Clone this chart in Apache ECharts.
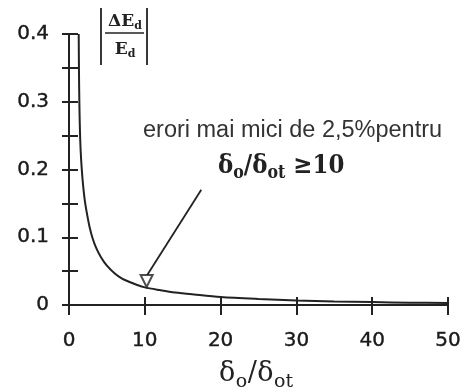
<!DOCTYPE html>
<html><head><meta charset="utf-8">
<script src="https://cdn.jsdelivr.net/npm/echarts@6/dist/echarts.min.js"></script>
<style>html,body{margin:0;padding:0;background:#fff}#c{width:466px;height:391px}</style>
</head><body><div id="c"></div>
<script>
// ---- data ----
const curveX = [1.28, 1.32, 1.38, 1.45, 1.55, 1.7, 1.9, 2.1, 2.4, 2.7, 3.1, 3.6, 4.2, 5.0, 6.0, 7.0, 8.0, 9.0, 10, 12, 14, 16.5, 20, 25, 30, 35, 40, 45, 50];
const curveY = [0.4, 0.34, 0.29, 0.255, 0.225, 0.198, 0.172, 0.153, 0.133, 0.116, 0.099, 0.084, 0.071, 0.058, 0.047, 0.039, 0.034, 0.0295, 0.026, 0.022, 0.0185, 0.0155, 0.0118, 0.0089, 0.0067, 0.0053, 0.0043, 0.0035, 0.003];
const xTickLabels = ['0', '10', '20', '30', '40', '50'];
const yTickLabels = ['0', '0.1', '0.2', '0.3', '0.4'];
const arrowX = [17.45, 10.3];
const arrowY = [0.17, 0.044];
const markerX = [10.24];
const markerY = [0.0354];
const noteLine1 = 'erori mai mici de 2,5%pentru';

const INK = '#222';
const cv = document.createElement('canvas').getContext('2d');
function run(x0, cy, parts, family, weight, opts) {
  opts = opts || {};
  const gap = opts.gap || 0, sx = opts.sx || 1;
  const widths = parts.map(p => { cv.font = `${weight} ${p[1]}px "${family}"`; return cv.measureText(p[0]).width; });
  const w = widths.reduce((a, b) => a + b, 0) + gap * (parts.length - 1);
  const children = [];
  let x = 0;
  parts.forEach((p, i) => {
    children.push({type: 'text', x: x, y: p[2],
      style: {text: p[0], fontSize: p[1], fontFamily: family, fontWeight: weight, fill: INK, align: 'left', verticalAlign: 'middle'}});
    x += widths[i] + gap;
  });
  return [{type: 'group', x: opts.center ? x0 - w * sx / 2 : x0, y: cy, scaleX: sx, z: 10, children: children}];
}

const chart = echarts.init(document.getElementById('c'), null, {renderer: 'canvas'});
const graphics = [].concat(
  run(125, 22, [['ΔE', 17, 0], ['d', 11, 4]], 'DejaVu Serif', 'bold', {center: true}),
  run(125, 50, [['E', 17, 0], ['d', 11, 4]], 'DejaVu Serif', 'bold', {center: true}),
  [{type: 'line', shape: {x1: 101, y1: 8, x2: 101, y2: 65}, style: {stroke: INK, lineWidth: 1.8}},
   {type: 'line', shape: {x1: 147, y1: 8, x2: 147, y2: 65}, style: {stroke: INK, lineWidth: 1.8}},
   {type: 'line', shape: {x1: 105, y1: 33, x2: 144, y2: 33}, style: {stroke: INK, lineWidth: 1.4}}],
  [{type: 'text', x: 143, y: 131, style: {text: noteLine1, fontSize: 23.5, fontFamily: 'Liberation Sans', fill: '#333', align: 'left', verticalAlign: 'middle'}}],
  run(218, 166, [['δ', 26, 0], ['o', 18, 7], ['/', 26, 0], ['δ', 26, 0], ['ot', 18, 7], [' ≥10', 26, 0]], 'DejaVu Serif', 'bold', {sx: 0.88}),
  run(256, 374, [['δ', 27, 0], ['o', 19, 8], ['/', 27, 0], ['δ', 27, 0], ['ot', 19, 8]], 'DejaVu Serif', 'normal', {center: true, gap: 0.5})
);

const axisFont = {fontSize: 20, fontFamily: 'DejaVu Sans', color: '#1a1a1a', textBorderColor: '#1a1a1a', textBorderWidth: 0.4};
chart.setOption({
  backgroundColor: '#fff',
  animation: false,
  grid: {left: 69, right: 18, top: 34, bottom: 86},
  xAxis: [
    {type: 'value', min: 0, max: 50, interval: 10,
     axisLine: {show: true, lineStyle: {color: INK, width: 2}},
     axisTick: {show: true, length: 10, lineStyle: {color: INK, width: 2}},
     axisLabel: Object.assign({margin: 26, formatter: v => xTickLabels[Math.round(v / 10)]}, axisFont),
     splitLine: {show: false}},
    {type: 'value', min: 0, max: 50, interval: 10, position: 'bottom',
     axisLine: {show: false}, axisTick: {show: true, inside: true, length: 8, lineStyle: {color: INK, width: 2}},
     axisLabel: {show: false}, splitLine: {show: false}}
  ],
  yAxis: [
    {type: 'value', min: 0, max: 0.4, interval: 0.05,
     axisLine: {show: true, lineStyle: {color: INK, width: 2}},
     axisTick: {show: true, length: 7, lineStyle: {color: INK, width: 2}},
     axisLabel: Object.assign({margin: 20, formatter: v => { const i = Math.round(v / 0.05); return i % 2 === 0 ? yTickLabels[i / 2] : ''; }}, axisFont),
     splitLine: {show: false}},
    {type: 'value', min: 0, max: 0.4, interval: 0.05, position: 'left',
     axisLine: {show: false}, axisTick: {show: true, inside: true, length: 9, lineStyle: {color: INK, width: 2}},
     axisLabel: {show: false}, splitLine: {show: false}}
  ],
  series: [
    {type: 'line', data: curveX.map((x, i) => [x, curveY[i]]), smooth: 0.3, showSymbol: false,
     lineStyle: {color: INK, width: 2}, z: 3},
    {type: 'line', data: arrowX.map((x, i) => [x, arrowY[i]]), showSymbol: false,
     lineStyle: {color: INK, width: 1.8}, z: 4},
    {type: 'scatter', data: markerX.map((x, i) => [x, markerY[i]]), symbol: 'path://M0,0 L10,0 L5,10 Z', symbolSize: [12, 12],
     itemStyle: {color: '#fff', borderColor: INK, borderWidth: 2}, z: 5}
  ],
  graphic: graphics
});
</script></body></html>
